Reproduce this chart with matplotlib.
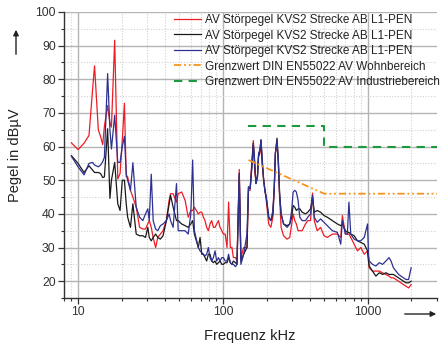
import numpy as np
import matplotlib
matplotlib.use("Agg")
import matplotlib.pyplot as plt
from matplotlib.ticker import FixedLocator, NullFormatter, FixedFormatter, MultipleLocator

plt.rcParams['font.family'] = ['Liberation Sans', 'DejaVu Sans']

freq = [9, 10, 11, 11.9, 12.6, 13, 13.8, 14.3, 14.8, 15.2, 16.0, 16.6, 17.0, 17.9, 18.8, 19.5, 20.2, 20.9,
        21.5, 22.0, 23.0, 23.9, 25.2, 26.6, 28.0, 29.2, 30.3, 31.0, 32.0, 33.0, 34.3, 35.5, 37.0, 38.6,
        40.7, 42.5, 43.5, 45.3, 47.8, 49.1, 51.9, 54.8, 57.6, 60.0, 61.8, 63.5, 67.6, 69.5, 71.4, 73.3,
        75.2, 77.2, 79.3, 81.4, 83.6, 85.9, 88.2, 90.5, 93.1, 95.5, 98.2, 100.7, 103.6, 106.7, 109.4,
        112.4, 115.4, 118, 122, 125, 129.6, 133, 139, 146.5, 150, 154, 158, 162, 166, 169, 173, 176,
        180, 183, 187, 191, 195, 199, 207, 214, 221, 226, 230, 236, 241, 246, 252, 262, 277, 289, 298,
        305, 313, 321, 330, 339, 352, 371, 385, 402, 415, 427, 447, 472, 498, 525, 569, 616, 650, 667,
        700, 722, 740, 762, 804, 848, 894, 944, 995, 1010, 1021, 1077, 1136, 1199, 1264, 1333, 1400,
        1445, 1500, 1563, 1630, 1694, 1760, 1836, 1910, 1990]

red = [61.1, 59.1, 61, 63.3, 77, 84, 65, 63, 60.6, 66, 72.2, 67, 65.8, 91.6, 50.4, 52, 62, 72.9,
       51, 51, 47, 45, 42, 36, 35.5, 35.5, 37, 38, 36, 33, 30, 33, 34, 35,
       38, 44, 46, 46, 43.5, 46, 46.5, 44, 39, 41, 41, 42, 40, 40.5, 40.5, 39,
       38, 36, 35, 37, 38, 36, 36, 37, 38, 36, 35, 34, 34, 30, 43.5,
       30, 30, 27, 27, 26, 53.2, 27, 30, 30, 47, 47, 55, 61.8, 52, 50, 51, 57,
       58, 61, 54, 50, 47, 44, 37, 36, 39, 47, 58, 61, 55, 45, 36, 33.5, 32.5, 33, 37,
       40, 38, 37, 35, 35, 35, 37, 38, 38, 46.2, 38, 35, 36, 33.5, 33, 34, 34, 33, 39.5,
       34, 34, 34, 33, 31, 29, 30, 28, 29, 27, 24, 23, 23, 23, 22.5, 22, 21.5,
       21, 21, 20.5, 20, 19.5, 19, 18.5, 18, 19]

black = [57.3, 55, 52.3, 54.3, 53, 52.3, 52.3, 52, 50.8, 51, 65.3, 44.6, 50, 55.3, 43, 41, 50, 50,
         43, 39, 36, 43, 34, 33.5, 33.5, 33, 36, 33, 32, 33, 34, 33, 32.5, 33.5,
         38, 43, 45.5, 42, 38, 38, 37, 36.5, 36, 37, 38, 34, 30, 33, 28, 28,
         27, 26, 28, 28, 26, 25.5, 26, 25, 25.5, 26, 25, 25, 25.5, 25.5, 27,
         25.5, 25, 26, 25.5, 25, 52, 26, 28, 30, 48, 47.5, 54, 61, 54, 49, 51, 57,
         59, 62, 55, 50, 47, 45, 39, 38, 40, 48, 58, 62.5, 56, 46, 40, 37, 36.5, 37, 39,
         42.5, 42, 41, 41.5, 41.5, 40.5, 40, 40.5, 41.5, 45, 40.5, 41, 40.5, 39.5, 39, 38, 37, 36.5, 37,
         35, 34.5, 34.5, 34, 33.5, 32, 31.5, 31, 29, 26, 24.5, 23, 21.5, 22.5, 22, 22.5, 22,
         22, 22, 21.5, 21, 20.5, 20, 19.5, 19.5, 20]

blue = [57.1, 54, 51.6, 55, 55.3, 54.5, 54, 54.5, 55.5, 56.8, 81.7, 65, 59.3, 69.3, 55.3, 55.3, 60, 63,
        52, 50, 47, 55.2, 42, 39, 38, 40, 41.5, 38, 51.8, 38, 35.5, 35, 36.5, 37,
        38, 40, 38, 36, 49, 35, 35, 35, 34, 40, 56, 35, 30, 29, 28.5, 28,
        27.5, 28, 30, 27, 26, 27, 29, 26, 27, 26, 27, 27, 26, 26, 28,
        25.5, 25, 25, 24.3, 25, 52, 25, 28, 34, 48, 47.5, 53, 60.8, 55, 49, 51, 58,
        59, 62, 56, 50, 46.5, 45, 39, 38, 41, 48, 58, 61.8, 56, 46, 40, 37, 36, 37, 41,
        46.5, 47, 46.5, 44, 39, 38, 38, 39, 40, 45.5, 39, 37.5, 38.5, 37.5, 36.5, 35, 34.5, 31, 38,
        34, 34, 43.5, 34, 32.5, 32, 32, 33, 37, 28, 26, 25, 24.5, 25.5, 25, 26, 27,
        26, 24, 23, 22, 21.5, 21, 20.5, 20.5, 24]

limit_b_freq = [150, 500, 3000]
limit_b_val = [56, 46, 46]
limit_a_freq = [150, 500, 500, 3000]
limit_a_val = [66, 66, 60, 60]

labels = ["AV Störpegel KVS2 Strecke AB L1-PEN",
          "AV Störpegel KVS2 Strecke AB L1-PEN",
          "AV Störpegel KVS2 Strecke AB L1-PEN",
          "Grenzwert DIN EN55022 AV Wohnbereich",
          "Grenzwert DIN EN55022 AV Industriebereich"]

x_ticks = [10, 100, 1000]
x_ticklabels = ["10", "100", "1000"]
y_ticks = [20, 30, 40, 50, 60, 70, 80, 90, 100]

W, H = 445, 347
fig = plt.figure(figsize=(W / 100, H / 100), dpi=100)
ax = fig.add_axes([64 / W, 1 - 298 / H, (437 - 64) / W, (298 - 12) / H])

ax.set_xscale('log')
ax.set_xlim(8, 3000)
ax.set_ylim(15, 100)

minor_x = [8, 9] + [d * k for d in (10, 100) for k in range(2, 10)] + [2000, 3000]
ax.xaxis.set_major_locator(FixedLocator(x_ticks))
ax.xaxis.set_major_formatter(FixedFormatter(x_ticklabels))
ax.xaxis.set_minor_locator(FixedLocator(minor_x))
ax.xaxis.set_minor_formatter(NullFormatter())
ax.yaxis.set_major_locator(FixedLocator(y_ticks))
ax.yaxis.set_minor_locator(MultipleLocator(5))

ax.grid(True, which='major', color='#b4b4b4', lw=1.0, ls='-', zorder=0)
ax.grid(True, which='minor', color='#d2d2d2', lw=0.8, ls=(0, (1, 1.5)), zorder=0)
ax.set_axisbelow(True)

for s in ('top', 'right'):
    ax.spines[s].set_visible(False)
for s in ('left', 'bottom'):
    ax.spines[s].set_color('#333333')
    ax.spines[s].set_linewidth(1.0)

ax.tick_params(axis='both', which='major', direction='out', length=4, width=0.9,
               color='#333333', labelsize=8.8, labelcolor='#333333', pad=2)
ax.tick_params(axis='both', which='minor', direction='out', length=2.5, width=0.8, color='#333333')

l1, = ax.plot(freq, red, color='#ee1c24', lw=0.9, zorder=3)
l2, = ax.plot(freq, black, color='#1a1a1a', lw=0.9, zorder=4)
l3, = ax.plot(freq, blue, color='#2e3192', lw=0.9, zorder=5)
l4, = ax.plot(limit_b_freq, limit_b_val, color='#f7941d', lw=1.3,
              dashes=(4, 1.6, 1, 1.6, 1, 1.6), zorder=6)
l5, = ax.plot(limit_a_freq, limit_a_val, color='#1d9a3e', lw=1.5, dashes=(4, 3), zorder=6)

fig.legend([l1, l2, l3, l4, l5], labels, loc='upper left',
           bbox_to_anchor=(174 / W, 1 - 14 / H), frameon=False,
           fontsize=8.5, handlelength=2.3, handletextpad=0.35, labelspacing=0.3,
           borderpad=0, borderaxespad=0, labelcolor='#222222')

fig.text(15 / W, 1 - 155 / H, "Pegel in dBµV", rotation=90, ha='center', va='center',
         fontsize=10.5, color='#222222')
fig.text(250 / W, 1 - 336 / H, "Frequenz kHz", ha='center', va='center',
         fontsize=10.5, color='#222222')

fig.add_artist(matplotlib.patches.FancyArrowPatch((16 / W, 1 - 57 / H), (16 / W, 1 - 27 / H),
               transform=fig.transFigure, arrowstyle='-|>', mutation_scale=8,
               color='#222222', lw=1.0))
fig.add_artist(matplotlib.patches.FancyArrowPatch((402 / W, 1 - 314 / H), (439 / W, 1 - 314 / H),
               transform=fig.transFigure, arrowstyle='-|>', mutation_scale=8,
               color='#222222', lw=1.0))

fig.savefig("out.png", dpi=100)
